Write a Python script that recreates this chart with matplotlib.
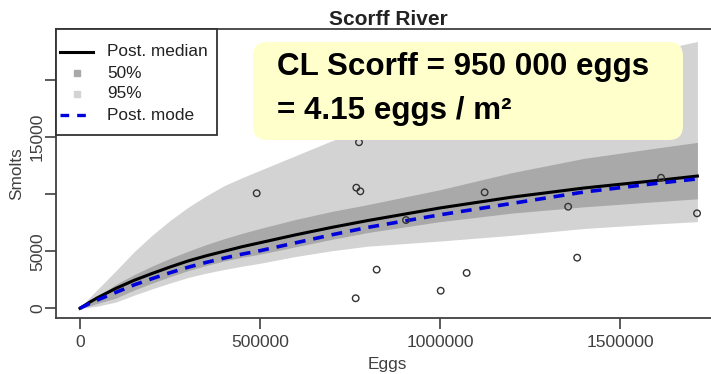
import matplotlib
matplotlib.use("Agg")
import matplotlib.pyplot as plt
from matplotlib.lines import Line2D
from matplotlib.patches import FancyBboxPatch, Rectangle
import matplotlib.transforms as mtransforms

plt.rcParams['font.family'] = ['Liberation Sans', 'DejaVu Sans']

# Stock-recruitment data, Scorff River
obs_eggs = [490800, 775000, 767600, 778700, 905600, 824000, 765800,
            1002000, 1074000, 1124000, 1356000, 1381000, 1614000, 1714000]
obs_smolts = [10090, 14560, 10580, 10260, 7740, 3390, 880,
              1540, 3100, 10170, 8910, 4440, 11450, 8330]

# Posterior summaries of the fitted curve
eggs_grid = [0, 25000, 50000, 100000, 150000, 200000, 250000, 300000, 350000,
             400000, 450000, 500000, 600000, 700000, 800000, 1000000, 1200000,
             1400000, 1600000, 1715000]
post_median = [0, 500, 950, 1750, 2450, 3050, 3620, 4150, 4600,
               5000, 5400, 5750, 6450, 7100, 7700, 8800, 9750,
               10550, 11200, 11600]
post_mode = [0, 400, 750, 1400, 2050, 2600, 3120, 3600, 4020,
             4400, 4750, 5050, 5750, 6450, 7100, 8200, 9200,
             10200, 10950, 11350]
q25 = [0, 200, 450, 900, 1600, 2200, 2780, 3300, 3750,
       4150, 4470, 4750, 5400, 6050, 6650, 7600, 8350,
       8900, 9350, 9600]
q75 = [0, 600, 1100, 2100, 2950, 3700, 4380, 5000, 5580,
       6100, 6570, 7000, 7800, 8500, 9100, 10400, 11900,
       13150, 14050, 14550]
q025 = [0, 80, 200, 550, 1150, 1700, 2220, 2700, 3080,
        3400, 3690, 3950, 4550, 5050, 5450, 5900, 6400,
        7000, 7400, 7600]
q975 = [0, 900, 1700, 3300, 4950, 6400, 7700, 8850, 9850,
        10750, 11450, 12100, 13400, 14700, 15900, 17900, 19600,
        21100, 22600, 23400]

x_ticks = [0, 500000, 1000000, 1500000]
x_tick_labels = ['0', '500000', '1000000', '1500000']
y_ticks = [0, 5000, 10000, 15000, 20000]
y_tick_labels = ['0', '5000', '', '15000', '']

legend_labels = ['Post. median', '50%', '95%', 'Post. mode']

W, H = 711, 374
fig = plt.figure(figsize=(W / 100, H / 100), dpi=100)
ax = fig.add_axes([56 / W, (H - 318.3) / H, (W - 56) / W, (318.3 - 29) / H])

axis_col = '#404040'
light = '#d3d3d3'
dark = '#a9a9a9'
mode_col = '#0000dd'

ax.fill_between(eggs_grid, q025, q975, color=light, lw=0, zorder=1)
ax.fill_between(eggs_grid, q25, q75, color=dark, lw=0, zorder=2)
ax.plot(eggs_grid, post_median, color='black', lw=2.2, zorder=4)
ax.plot(eggs_grid, post_mode, color=mode_col, lw=2.6, ls=(0, (3, 2.2)), zorder=5)
ax.scatter(obs_eggs, obs_smolts, s=22, facecolors='none', edgecolors='#333333',
           linewidths=1.0, zorder=6)

ax.set_xlim(-66667, -66667 + (W - 56) * 2777.8)
ax.set_ylim(-877, 24495)

ax.set_xticks(x_ticks)
ax.set_xticklabels(x_tick_labels)
ax.set_yticks(y_ticks)
ax.set_yticklabels(y_tick_labels, rotation=90, va='center')

for sp in ['left', 'top', 'bottom']:
    ax.spines[sp].set_color(axis_col)
    ax.spines[sp].set_linewidth(1.3)
ax.spines['right'].set_visible(False)
ax.tick_params(axis='both', direction='out', length=8, width=1.2,
               color=axis_col, labelcolor=axis_col, labelsize=12.6)
ax.tick_params(axis='x', pad=4)
ax.tick_params(axis='y', pad=0)

# Legend box drawn in pixel coordinates (origin at bottom-left)
px = mtransforms.IdentityTransform()
fig.add_artist(Rectangle((56, H - 135), 161, 106, transform=px, facecolor='white',
                         edgecolor='#333333', lw=1.3, zorder=10))
rows = [H - 52, H - 73, H - 94, H - 115]
fig.add_artist(Line2D([60, 93], [rows[0], rows[0]], transform=px, color='black',
                      lw=2.2, zorder=11))
fig.add_artist(Line2D([76.5], [rows[1]], transform=px, ls='none', marker='s', ms=5,
                      color=dark, zorder=11))
fig.add_artist(Line2D([76.5], [rows[2]], transform=px, ls='none', marker='s', ms=5,
                      color=light, zorder=11))
fig.add_artist(Line2D([60, 93], [rows[3], rows[3]], transform=px, color=mode_col,
                      lw=2.4, ls=(0, (2.6, 2.4)), zorder=11))
for label, yy in zip(legend_labels, rows):
    fig.text(107 / W, yy / H, label, ha='left', va='center', fontsize=12.4,
             color='#222222', zorder=12)

fig.text(388 / W, (H - 25) / H, 'Scorff River', ha='center', va='baseline',
         fontsize=15, fontweight='bold', color='#222222')
fig.text(17 / W, (H - 173.5) / H, 'Smolts', ha='center', va='center',
         rotation=90, fontsize=12.4, color=axis_col)
fig.text(387 / W, (H - 364) / H, 'Eggs', ha='center', va='center',
         fontsize=12.4, color=axis_col)

# Highlighted conservation-limit box
box = FancyBboxPatch((253, H - 140), 430, 98,
                     boxstyle='round,pad=0,rounding_size=14', transform=px,
                     facecolor='#ffffcc', edgecolor='none', zorder=20)
fig.add_artist(box)
fig.text(277 / W, (H - 75) / H, 'CL Scorff = 950 000 eggs', ha='left',
         va='baseline', fontsize=22.6, fontweight='bold', color='black', zorder=21)
fig.text(277 / W, (H - 119) / H, '= 4.15 eggs / m\u00b2', ha='left',
         va='baseline', fontsize=22.6, fontweight='bold', color='black', zorder=21)

fig.savefig('out.png', dpi=100)
